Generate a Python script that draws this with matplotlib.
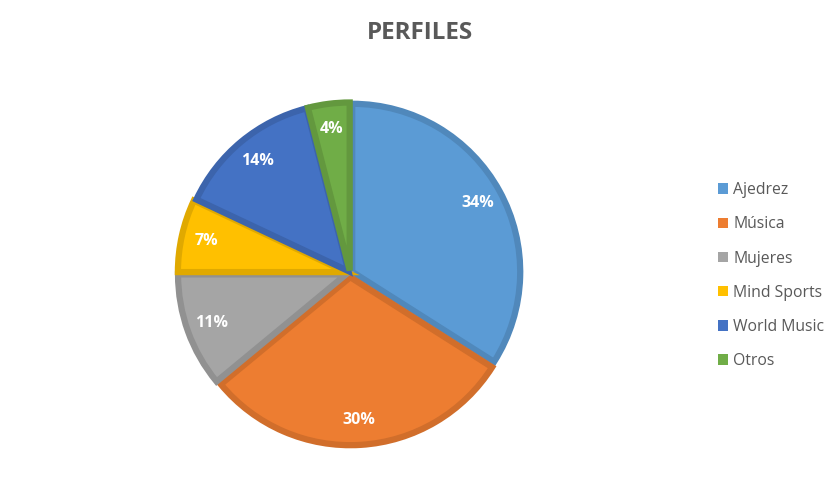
import matplotlib.pyplot as plt
from matplotlib.colors import to_rgb

labels = ['Ajedrez', 'Música', 'Mujeres', 'Mind Sports', 'World Music', 'Otros']
values = [34, 30, 11, 7, 14, 4]
colors = ['#5B9BD5', '#ED7D31', '#A5A5A5', '#FFC000', '#4472C4', '#70AD47']
explode = [0.015, 0.025, 0.025, 0.025, 0.015, 0.015]

plt.rcParams['font.family'] = ['Open Sans', 'DejaVu Sans']

def darker(c, f=0.88):
    r, g, b = to_rgb(c)
    return (r * f, g * f, b * f)

fig = plt.figure(figsize=(8.4, 4.92), dpi=100)
r_px = 168
lim = 1.06
half = r_px * lim
ax = fig.add_axes([(350 - half) / 840, (492 - 273 - half) / 492,
                   2 * half / 840, 2 * half / 492])

wedges, texts, autotexts = ax.pie(
    values, colors=colors, explode=explode, startangle=90, counterclock=False,
    autopct='%1.0f%%', pctdistance=0.85,
    wedgeprops=dict(linewidth=4.5, joinstyle='miter'),
    textprops=dict(color='white', fontsize=11.5, fontweight='bold'))
for w, c in zip(wedges, colors):
    w.set_edgecolor(darker(c))
ax.set_xlim(-lim, lim)
ax.set_ylim(-lim, lim)
ax.set_aspect('equal')
ax.axis('off')

fig.text(420 / 840, 1 - 33 / 492, 'PERFILES', ha='center', va='center',
         fontsize=17.5, fontweight='bold', color='#595959')

leg = fig.legend(wedges, labels, loc='upper left',
                 bbox_to_anchor=(704 / 840, 1 - 168 / 492), frameon=False,
                 fontsize=11.3, labelcolor='#595959', handlelength=0.65,
                 handleheight=0.65, handletextpad=0.3, labelspacing=1.16)
for h in leg.legend_handles:
    h.set_edgecolor('none')

fig.savefig('out.png', dpi=100)
